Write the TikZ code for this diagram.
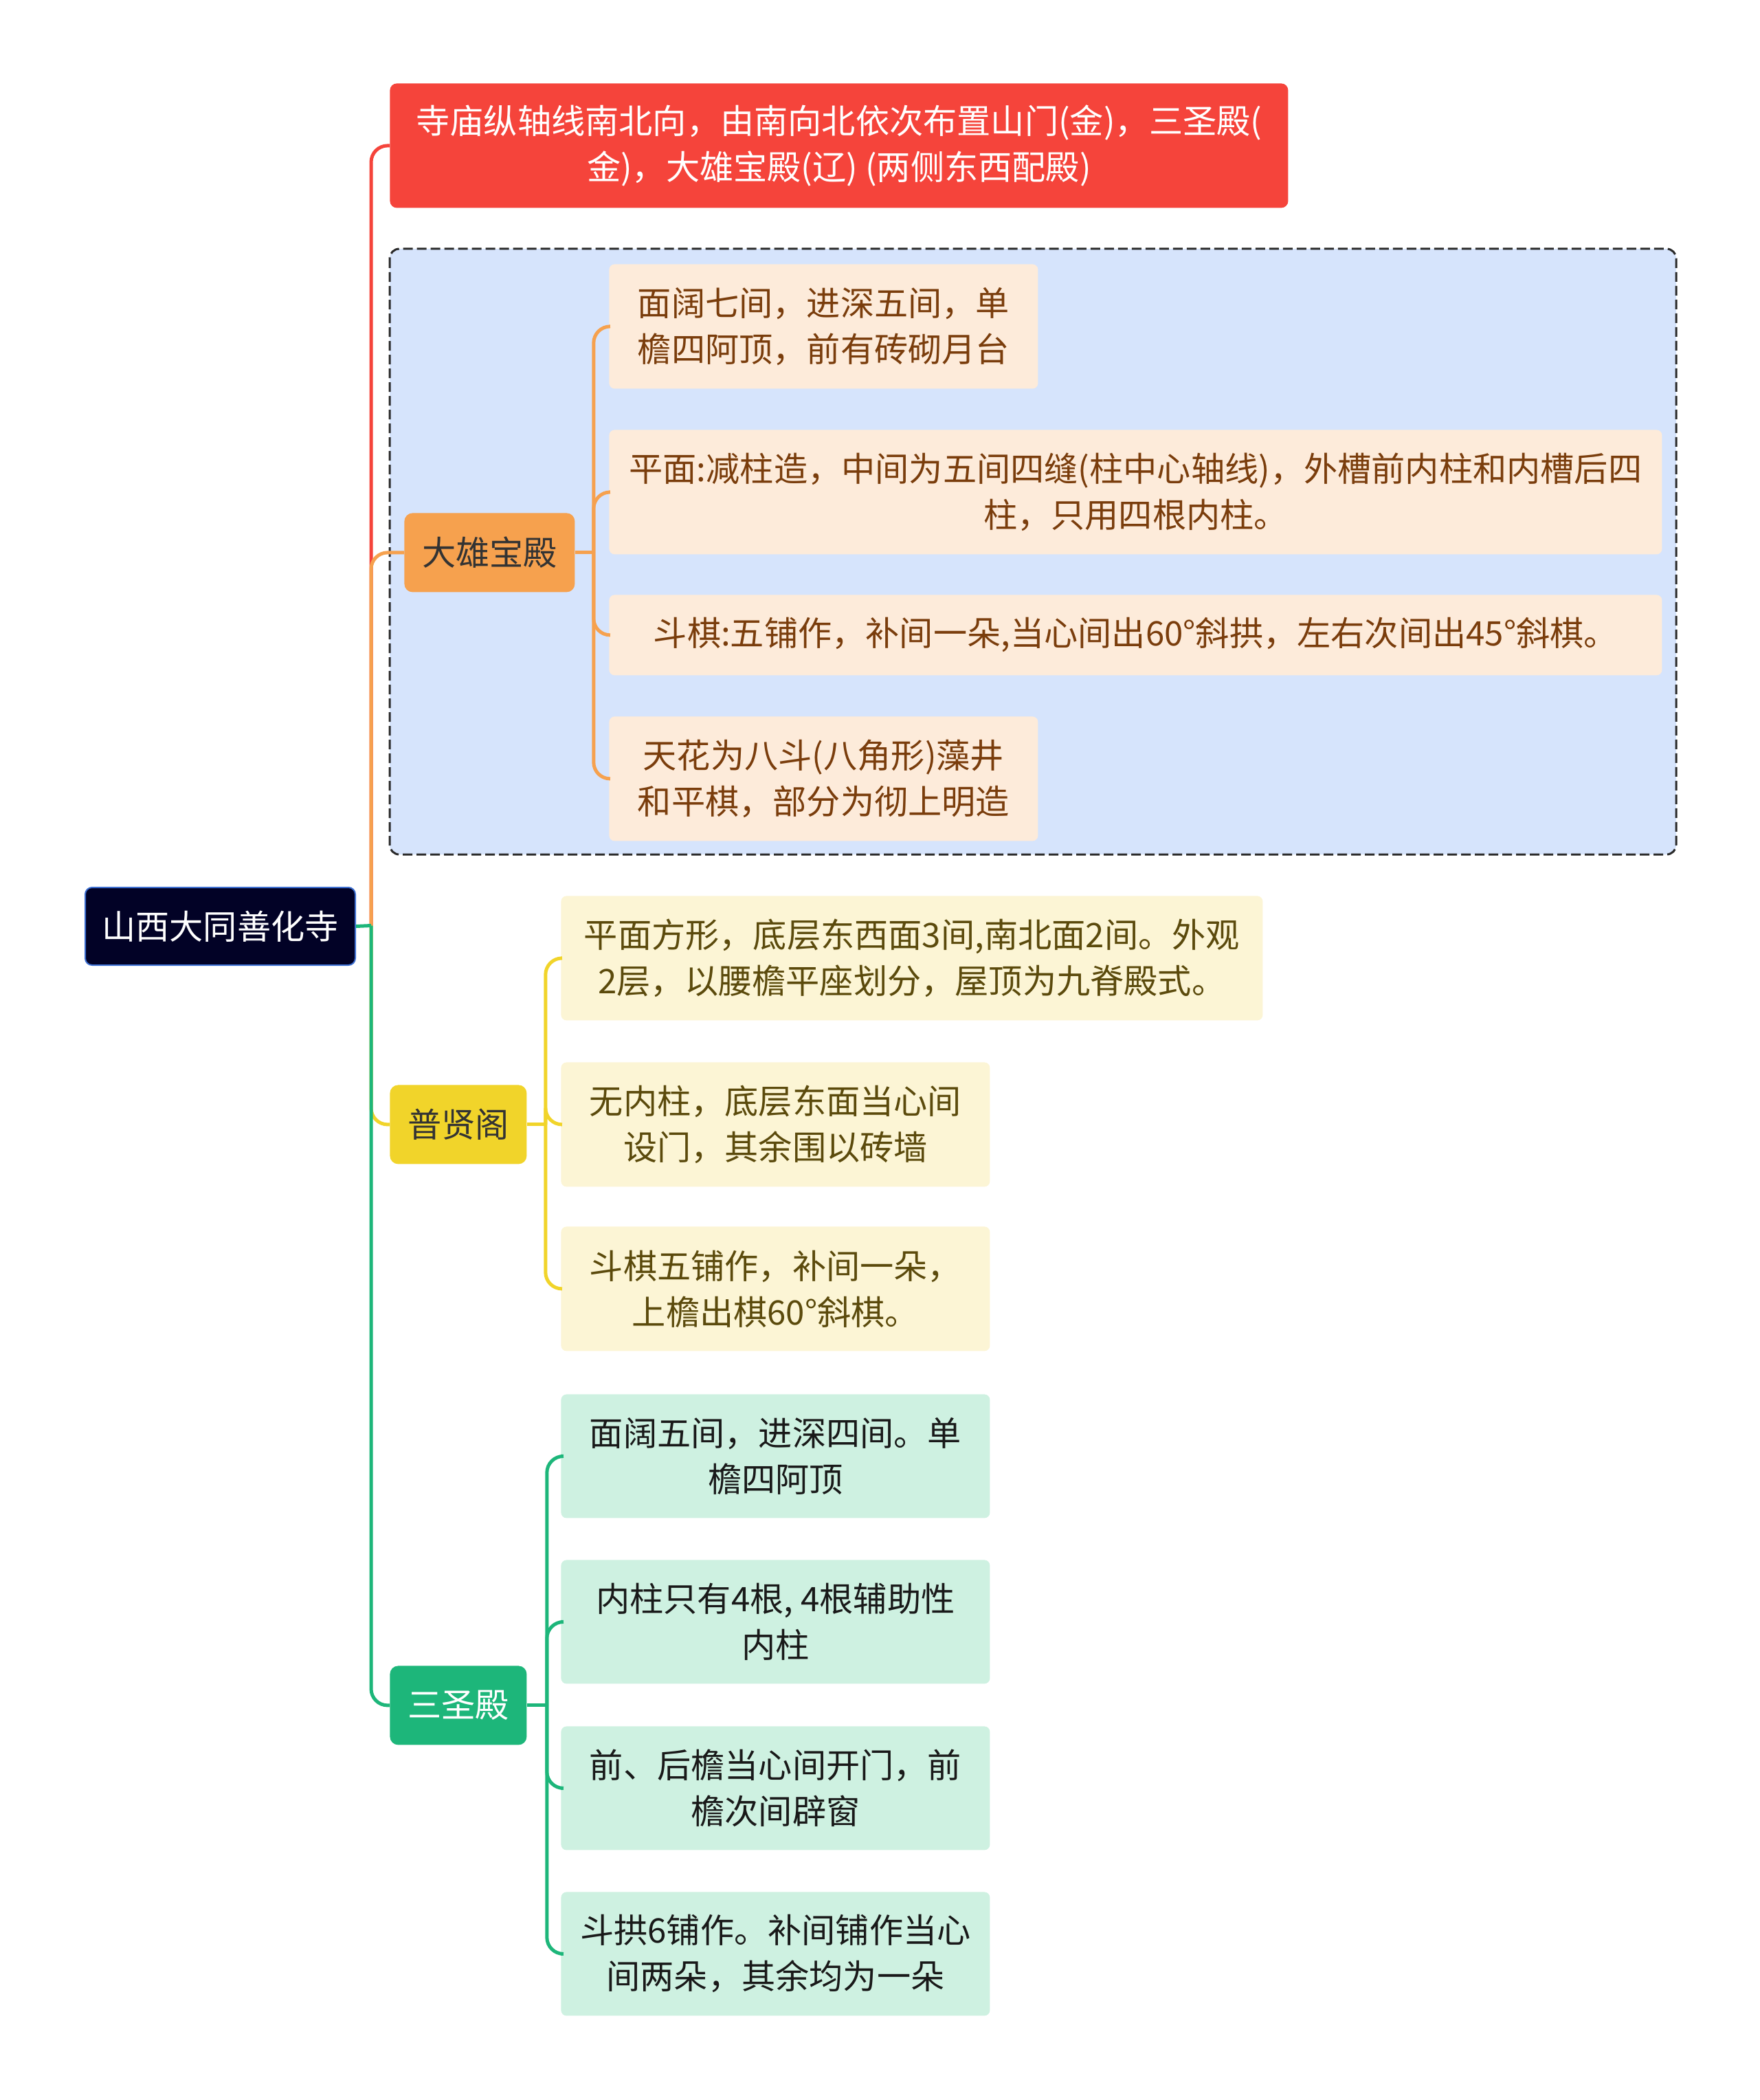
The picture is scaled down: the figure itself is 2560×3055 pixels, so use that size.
\documentclass[tikz,border=0pt]{standalone}
\usepackage{fontspec}
\setmainfont{Noto Sans CJK SC}
\usepackage{xcolor}
\usetikzlibrary{positioning}
\definecolor{rootfill}{HTML}{020226}
\definecolor{rootline}{HTML}{3C6FD2}
\definecolor{redfill}{HTML}{F5443B}
\definecolor{orangefill}{HTML}{F6A14E}
\definecolor{peach}{HTML}{FDEBDA}
\definecolor{peachtext}{HTML}{7A3D0C}
\definecolor{yellowfill}{HTML}{F1D42A}
\definecolor{cream}{HTML}{FCF5D5}
\definecolor{creamtext}{HTML}{5B4A0C}
\definecolor{greenfill}{HTML}{1DB67A}
\definecolor{mint}{HTML}{CEF1E1}
\definecolor{framefill}{HTML}{D6E4FC}
\definecolor{frameline}{HTML}{2A2A2A}
\begin{document}
\begin{tikzpicture}[x=0.5pt, y=-0.5pt, font=\fontsize{24.6}{33.5}\selectfont,
  bx/.style={rounded corners=5pt, align=center, inner sep=0pt, anchor=north west},
  rootbox/.style={bx, fill=rootfill, draw=rootline, line width=1pt, text=white,
                  minimum width=196.5pt, minimum height=56.5pt},
  note/.style={bx, fill=redfill, text=white, minimum width=653.5pt, minimum height=90.5pt},
  hall/.style={bx, rounded corners=6pt, minimum height=57.5pt},
  dxhall/.style={hall, fill=orangefill, text=black!80, minimum width=124pt},
  pxhall/.style={hall, fill=yellowfill, text=black!80, minimum width=99.5pt},
  sxhall/.style={hall, fill=greenfill, text=white, minimum width=99.5pt},
  dleaf/.style={bx, rounded corners=4pt, fill=peach, text=peachtext, minimum width=312pt, minimum height=90.5pt},
  pleaf/.style={bx, rounded corners=4pt, fill=cream, text=creamtext, minimum width=312pt, minimum height=90.5pt},
  sleaf/.style={bx, rounded corners=4pt, fill=mint, text=black!90, minimum width=312pt, minimum height=90pt},
  frame/.style={fill=framefill, draw=frameline, line width=1.5pt, rounded corners=7pt,
                dash pattern=on 7pt off 3pt},
  br/.style={line width=2.5pt, rounded corners=12pt}]
\useasboundingbox (0,0) rectangle (2560,3055);
% Summary frame round the main hall.
\path[frame] (567,362) rectangle (2439,1243);
% Root and its four branches.
\node[rootbox] (root) at (123,1290) {山西大同善化寺};
\node[note] (axis) at (567,121) {寺庙纵轴线南北向，由南向北依次布置山门(金)，三圣殿(\\金)，大雄宝殿(辽) (两侧东西配殿)};
\node[dxhall] (dx) at (588,746) {大雄宝殿};
\node[pxhall] (px) at (567,1578) {普贤阁};
\node[sxhall] (sx) at (567,2423) {三圣殿};
% 大雄宝殿
\node[dleaf] (d1) at (886,384) {面阔七间，进深五间，单\\檐四阿顶，前有砖砌月台};
\node[dleaf, minimum width=766pt] (d2) at (886,625) {平面:减柱造，中间为五间四缝(柱中心轴线)，外槽前内柱和内槽后四\\柱，只用四根内柱。};
\node[dleaf, minimum width=766pt, minimum height=58.5pt] (d3) at (886,865) {斗棋:五铺作，补间一朵,当心间出60°斜拱，左右次间出45°斜棋。};
\node[dleaf] (d4) at (886,1042) {天花为八斗(八角形)藻井\\和平棋，部分为彻上明造};
% 普贤阁
\node[pleaf, minimum width=510.5pt] (p1) at (816,1303) {平面方形，底层东西面3间,南北面2间。外观\\2层，以腰檐平座划分，屋顶为九脊殿式。};
\node[pleaf] (p2) at (816,1545) {无内柱，底层东面当心间\\设门，其余围以砖墙};
\node[pleaf] (p3) at (816,1784) {斗棋五铺作，补间一朵，\\上檐出棋60°斜棋。};
% 三圣殿
\node[sleaf] (s1) at (816,2028) {面阔五间，进深四间。单\\檐四阿顶};
\node[sleaf] (s2) at (816,2269) {内柱只有4根, 4根辅助性\\内柱};
\node[sleaf] (s3) at (816,2511) {前、后檐当心间开门，前\\檐次间辟窗};
\node[sleaf] (s4) at (816,2752) {斗拱6铺作。补间铺作当心\\间两朵，其余均为一朵};
% Trunk: later branches lie over earlier ones.
\coordinate (trunk) at (540,1346.5);
\draw[br, draw=redfill] (trunk) |- (axis.west);
\draw[br, draw=orangefill] (trunk) |- (dx.west);
\draw[br, draw=yellowfill] (trunk) |- (px.west);
\draw[br, draw=greenfill] (trunk) |- (sx.west);
\draw[br, draw=greenfill] (root.east) -- (trunk);
% Brackets to the leaves.
\draw[br, draw=orangefill] (dx.east) -- ++(27,0) coordinate (dxj);
\draw[br, draw=orangefill] (dxj) |- (d1.west);
\draw[br, draw=orangefill] (dxj) |- (d2.west);
\draw[br, draw=orangefill] (dxj) |- (d3.west);
\draw[br, draw=orangefill] (dxj) |- (d4.west);
\draw[br, draw=yellowfill] (px.east) -- ++(27,0) coordinate (pxj);
\draw[br, draw=yellowfill] (pxj) |- (p1.west);
\draw[br, draw=yellowfill] (pxj) |- (p2.west);
\draw[br, draw=yellowfill] (pxj) |- (p3.west);
\draw[br, draw=greenfill] (sx.east) -- ++(29,0) coordinate (sxj);
\draw[br, draw=greenfill] (sxj) |- (s1.west);
\draw[br, draw=greenfill] (sxj) |- (s2.west);
\draw[br, draw=greenfill] (sxj) |- (s3.west);
\draw[br, draw=greenfill] (sxj) |- (s4.west);
\end{tikzpicture}
\end{document}
